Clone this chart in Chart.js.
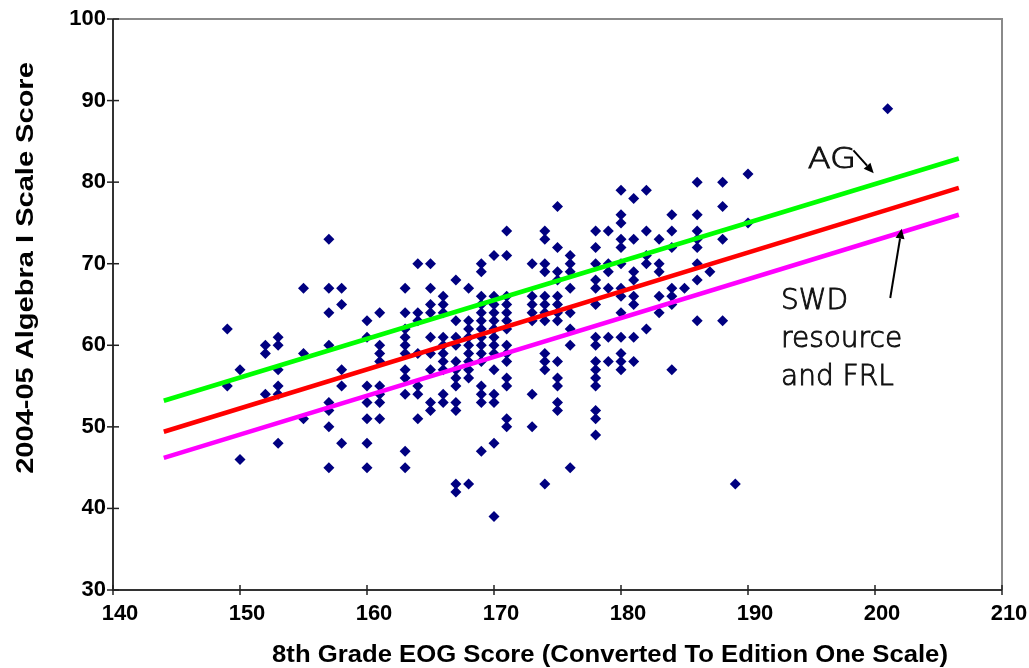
<!DOCTYPE html>
<html><head><meta charset="utf-8">
<script src="https://cdn.jsdelivr.net/npm/chart.js@4/dist/chart.umd.min.js"></script>
<style>html,body{margin:0;padding:0;background:#fff;}#wrap{width:1029px;height:668px;}</style>
</head><body><div id="wrap"><canvas id="c" width="1029" height="668"></canvas></div>
<script>
// ---- data ----
const eogColumns = [149,150,152,153,155,157,158,160,161,163,164,165,166,167,168,169,170,171,173,174,175,176,178,179,180,181,182,183,184,185,186,187,188,189,190,201];
const algebraByColumn = [
  [62,55],
  [57,46],
  [60,59,54],
  [61,60,57,55,54,48],
  [67,59,51],
  [73,67,64,60,53,52,50,45],
  [67,65,57,55,48],
  [63,61,55,53,51,48,45],
  [64,60,59,58,55,54,53,51],
  [67,64,62,61,60,59,57,56,54,47,45],
  [70,64,63,59,55,54,51],
  [70,67,65,64,61,59,57,53,52],
  [66,65,64,61,60,59,58,57,54,53],
  [68,63,61,60,58,57,56,55,53,52,43,42],
  [67,63,62,61,60,59,58,57,56,43],
  [70,69,66,65,64,63,62,61,60,59,58,55,54,53,47],
  [71,66,65,64,63,62,61,60,59,57,54,53,48,39],
  [74,71,66,65,64,63,62,60,59,58,56,55,51,50],
  [70,66,65,64,63,54,50],
  [74,73,70,69,66,65,64,63,59,58,57,43],
  [77,72,69,68,66,65,64,63,58,56,55,53,52],
  [71,70,69,67,64,62,60,45],
  [74,72,70,68,67,65,61,60,58,57,56,55,52,51,49],
  [74,70,69,67,61,58],
  [79,76,75,73,72,70,67,66,64,61,59,58,57],
  [78,73,69,68,66,65,61,58],
  [79,74,71,70,62],
  [73,70,69,66,64],
  [76,74,72,67,66,65,57],
  [67],
  [80,76,74,73,72,70,68,63],
  [69],
  [80,77,73,63],
  [43],
  [81,75],
  [89]
];
const fitX = [144, 206.6];
const agFit = [53.2, 82.9];
const allFit = [49.4, 79.3];
const swdFrlFit = [46.2, 76.0];
const xTicks = [140,150,160,170,180,190,200,210];
const yTicks = [30,40,50,60,70,80,90,100];
const xTitle = '8th Grade EOG Score (Converted To Edition One Scale)';
const yTitle = '2004-05 Algebra I Scale Score';
const noteAG = ['AG'];
const noteSWD = ['SWD','resource','and FRL'];

// ---- build ----
const scatterPts = [];
eogColumns.forEach((x,i)=>algebraByColumn[i].forEach(y=>scatterPts.push({x:x,y:y})));
const linePts = arr => fitX.map((x,i)=>({x:x,y:arr[i]}));

const AX = "'Liberation Sans', Arial, sans-serif";
const NOTEF = "'DejaVu Sans', sans-serif";

function arrow(ctx, x1,y1,x2,y2){
  ctx.save();
  ctx.strokeStyle='#000'; ctx.fillStyle='#000'; ctx.lineWidth=2;
  const a=Math.atan2(y2-y1,x2-x1), L=10, W=4.5;
  const bx=x2-L*Math.cos(a), by=y2-L*Math.sin(a);
  ctx.beginPath(); ctx.moveTo(x1,y1); ctx.lineTo(bx,by); ctx.stroke();
  ctx.beginPath(); ctx.moveTo(x2,y2);
  ctx.lineTo(bx+W*Math.sin(a), by-W*Math.cos(a));
  ctx.lineTo(bx-W*Math.sin(a), by+W*Math.cos(a));
  ctx.closePath(); ctx.fill();
  ctx.restore();
}

function note(ctx, t, x, y, sx){
  ctx.save();
  ctx.translate(x,y); ctx.scale(sx,1);
  ctx.fillText(t,0,0); ctx.strokeText(t,0,0);
  ctx.restore();
}

const decor = {
  id:'decor',
  beforeDatasetsDraw(chart){
    const {ctx, chartArea:a, scales:{x,y}} = chart;
    ctx.save();
    ctx.lineWidth=2;
    ctx.strokeStyle='#8a8a8a';
    ctx.beginPath(); ctx.moveTo(a.left,a.top); ctx.lineTo(a.right,a.top); ctx.lineTo(a.right,a.bottom); ctx.stroke();
    ctx.strokeStyle='#333';
    ctx.beginPath(); ctx.moveTo(a.left,a.top); ctx.lineTo(a.left,a.bottom); ctx.lineTo(a.right,a.bottom); ctx.stroke();
    ctx.lineWidth=1.5; ctx.strokeStyle='#222';
    xTicks.forEach(v=>{const p=x.getPixelForValue(v); ctx.beginPath(); ctx.moveTo(p,a.bottom-5); ctx.lineTo(p,a.bottom+5); ctx.stroke();});
    yTicks.forEach(v=>{const p=y.getPixelForValue(v); ctx.beginPath(); ctx.moveTo(a.left-6,p); ctx.lineTo(a.left+6,p); ctx.stroke();});
    ctx.restore();
  },
  afterDatasetsDraw(chart){
    const {ctx, scales:{x,y}} = chart;
    const X=v=>x.getPixelForValue(v), Y=v=>y.getPixelForValue(v);
    ctx.save();
    ctx.fillStyle='#111'; ctx.strokeStyle='#111'; ctx.lineWidth=0.9;
    ctx.font="200 28px "+NOTEF;
    ctx.textBaseline='middle'; ctx.textAlign='left';
    note(ctx, noteAG[0], X(194.7), Y(82.6), 1.2);
    noteSWD.forEach((t,i)=>note(ctx, t, X(192.6), Y(65.4-4.7*i), 1));
    ctx.restore();
    arrow(ctx, X(198.3),Y(83.9), X(199.9),Y(81.1));
    arrow(ctx, X(201.2),Y(65.8), X(202.1),Y(74.3));
  },
  afterDraw(chart){
    const {ctx} = chart;
    ctx.save();
    ctx.fillStyle='#000';
    ctx.textAlign='center'; ctx.textBaseline='middle';
    ctx.font="bold 24px "+AX;
    ctx.save();
    ctx.translate(610,655); ctx.scale(1.07,1);
    ctx.fillText(xTitle, 0, 0);
    ctx.restore();
    ctx.translate(26,268); ctx.rotate(-Math.PI/2); ctx.scale(1.21,1);
    ctx.fillText(yTitle, 0, 0);
    ctx.restore();
  }
};

const zeroPad = s => { s.paddingLeft=0; s.paddingRight=0; s.paddingTop=0; s.paddingBottom=0; };

new Chart(document.getElementById('c'), {
  type:'scatter',
  data:{datasets:[
    {label:'AG', type:'line', data:linePts(agFit), borderColor:'#00ff00', borderWidth:4.5, pointRadius:0, fill:false, order:1},
    {label:'All', type:'line', data:linePts(allFit), borderColor:'#ff0000', borderWidth:4.5, pointRadius:0, fill:false, order:1},
    {label:'SWD resource and FRL', type:'line', data:linePts(swdFrlFit), borderColor:'#ff00ff', borderWidth:4.5, pointRadius:0, fill:false, order:1},
    {label:'Students', data:scatterPts, pointStyle:'rectRot', pointRadius:5.5, backgroundColor:'#000080', borderColor:'#000080', borderWidth:0, order:2}
  ]},
  options:{
    responsive:false, animation:false, devicePixelRatio:1,
    layout:{padding:{top:19,right:27,left:0,bottom:0}},
    plugins:{legend:{display:false}, tooltip:{enabled:false}},
    scales:{
      x:{type:'linear', min:140, max:210,
        afterBuildTicks:s=>{s.ticks=xTicks.map(v=>({value:v}));},
        afterFit:s=>{s.height=78; zeroPad(s);},
        grid:{display:true, drawOnChartArea:false, drawTicks:false}, border:{display:false},
        ticks:{font:{family:AX, size:22, weight:'bold'}, color:'#000', padding:11, labelOffset:7, maxRotation:0, autoSkip:false}},
      y:{type:'linear', min:30, max:100,
        afterBuildTicks:s=>{s.ticks=yTicks.map(v=>({value:v}));},
        afterFit:s=>{s.width=113; zeroPad(s);},
        grid:{display:true, drawOnChartArea:false, drawTicks:false}, border:{display:false},
        ticks:{font:{family:AX, size:22, weight:'bold'}, color:'#000', padding:7, autoSkip:false}}
    }
  },
  plugins:[decor]
});
</script></body></html>
